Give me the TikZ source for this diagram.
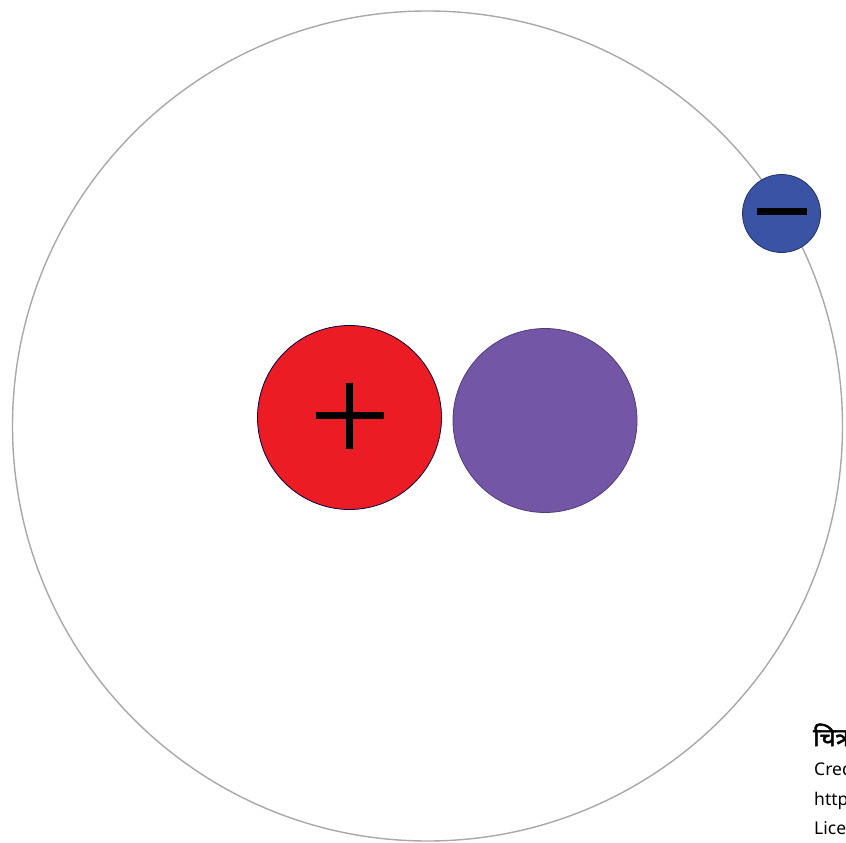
\documentclass[tikz,border=0pt]{standalone}
\usepackage{fontspec}
\setmainfont{Noto Sans}
\newfontfamily\devafont[Script=Devanagari,FakeBold=2]{Noto Sans}
\usetikzlibrary{positioning}

\definecolor{protonred}{HTML}{EC1C24}
\definecolor{neutronpurple}{HTML}{7456A6}
\definecolor{electronblue}{HTML}{3A53A4}
\definecolor{orbitgrey}{HTML}{A8A8A8}

\tikzset{
  particle/.style={circle, draw=black!75!blue, line width=0.8pt, inner sep=0pt},
  signbar/.style={line width=7.5pt, black},
  credit/.style={anchor=base west, inner sep=0pt, font=\fontsize{17.5}{20}\selectfont}
}

\begin{document}
\begin{tikzpicture}[x=1pt,y=-1pt]
  \useasboundingbox (0,0) rectangle (846,843);
  \clip (0,0) rectangle (846,843);
  % orbit
  \node[circle, draw=orbitgrey, line width=1.4pt, minimum size=830pt, inner sep=0pt] (orbit) at (427.5,426) {};
  % nucleus
  \node[particle, fill=protonred, minimum size=184pt] (proton) at (349.5,417.5) {};
  \node[particle, fill=neutronpurple, draw=neutronpurple!70!black, minimum size=184pt] (neutron) at (545,420.5) {};
  \draw[signbar] (proton.center) ++(-34,-2) -- ++(68,0);
  \draw[signbar] (proton.center) ++(0,-35) -- ++(0,66);
  % electron
  \node[particle, fill=electronblue, draw=electronblue!60!black, minimum size=78pt] (electron) at (781.5,213.5) {};
  \draw[signbar] (electron.center) ++(-25,-2) -- ++(50,0);
  % caption
  \node[anchor=base west, inner sep=0pt, font=\devafont\fontsize{25}{28}\selectfont] (figlabel) at (813,746) {चित्र};
  \node[credit] (credit) at (814,775) {Credit};
  \node[credit] (link) at (814,805) {https};
  \node[credit] (licence) at (814,834) {License};
\end{tikzpicture}
\end{document}
